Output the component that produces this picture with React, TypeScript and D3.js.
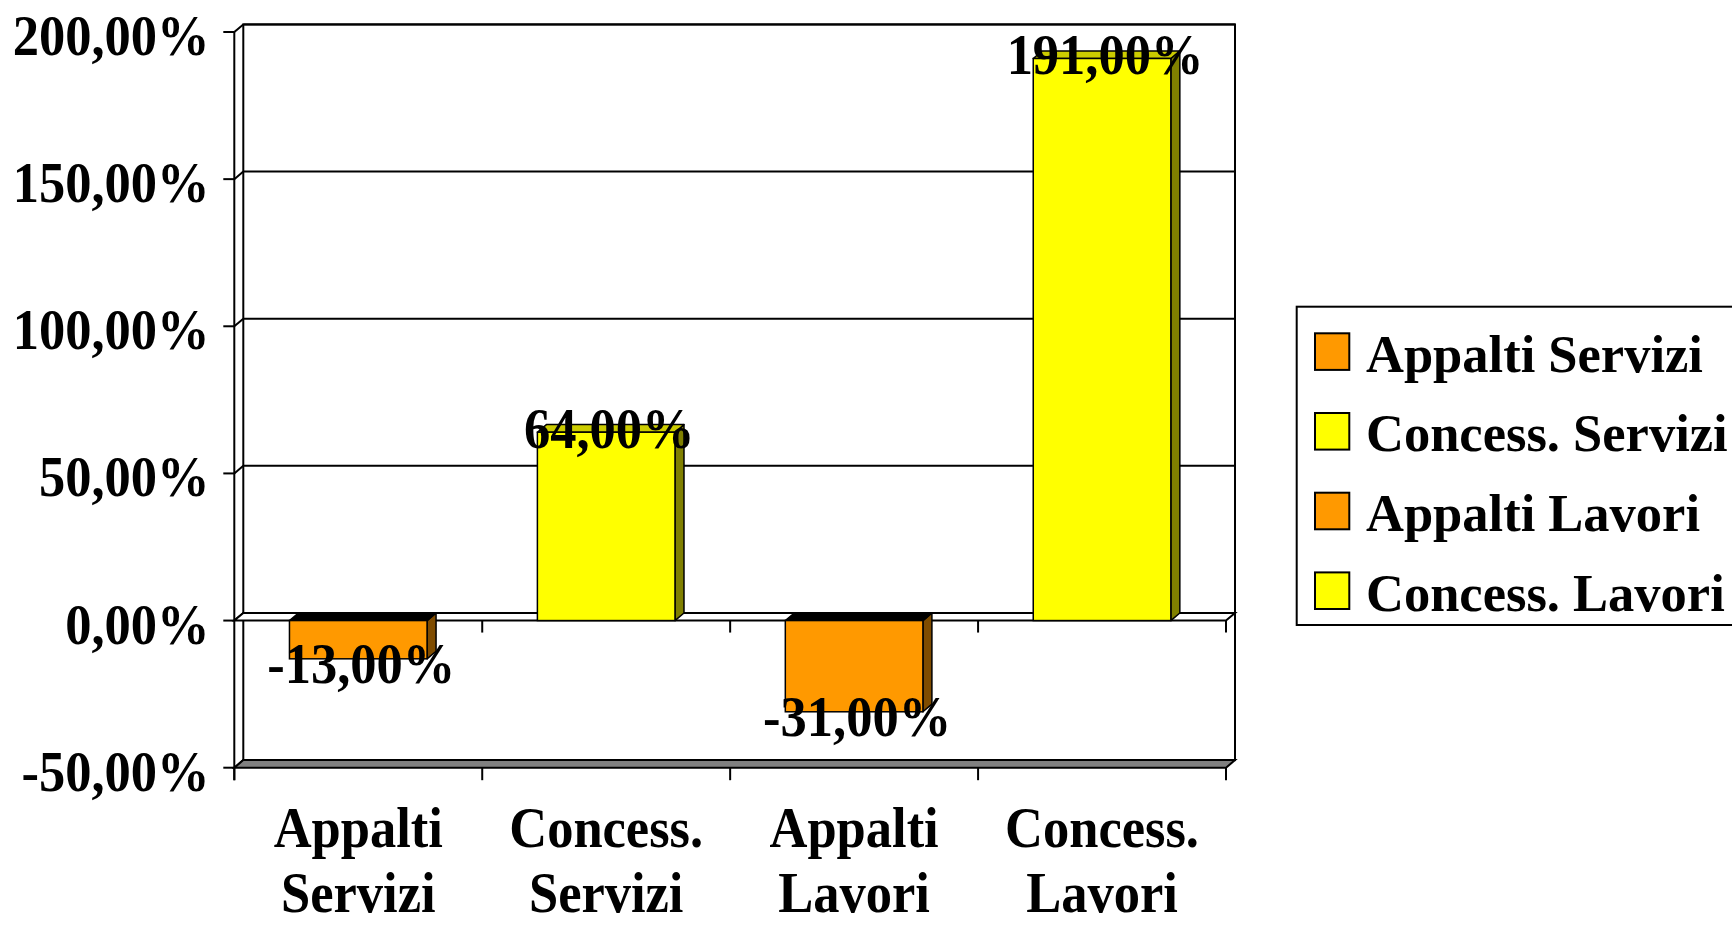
import React, { useEffect } from "react";
import * as d3 from "d3";

const categories = ["Appalti Servizi", "Concess. Servizi", "Appalti Lavori", "Concess. Lavori"];
const categoryLines = [["Appalti", "Servizi"], ["Concess.", "Servizi"], ["Appalti", "Lavori"], ["Concess.", "Lavori"]];
const values = [-13, 64, -31, 191];
const valueLabels = ["-13,00%", "64,00%", "-31,00%", "191,00%"];
const yTicks = [-50, 0, 50, 100, 150, 200];
const yTickLabels = ["-50,00%", "0,00%", "50,00%", "100,00%", "150,00%", "200,00%"];
const legendNames = ["Appalti Servizi", "Concess. Servizi", "Appalti Lavori", "Concess. Lavori"];

const W = 1732;
const H = 927;
const FONT = "'Liberation Serif', 'Times New Roman', serif";

const palette: Record<string, { front: string; top: string; side: string }> = {
  orange: { front: "#FF9900", top: "#000000", side: "#7F4C00" },
  yellow: { front: "#FFFF00", top: "#CCCC00", side: "#808000" },
};
const colorOf = (name: string) => (name.startsWith("Appalti") ? palette.orange : palette.yellow);

export default function App() {
  useEffect(() => {
    document.body.style.margin = "0";
    document.body.style.overflow = "hidden";
  }, []);

  const x0 = 234.3;
  const x1 = 1226;
  const dx = 9;
  const dy = 7.6;
  const y = d3.scaleLinear().domain([-50, 200]).range([767.7, 32]);
  const xb = d3
    .scaleBand<string>()
    .domain(categories)
    .range([x0, x1])
    .paddingInner(0.445)
    .paddingOuter(0.2225);
  const step = (x1 - x0) / categories.length;
  const bw = xb.bandwidth();
  const y0 = y(0);
  const yTop = y(200);
  const yBot = y(-50);
  const sy = 1.08;
  const fs = 52.5;

  const pts = (p: [number, number][]) => p.map((q) => q.join(",")).join(" ");

  return (
    <svg width={W} height={H} style={{ position: "absolute", left: 0, top: 0, background: "#fff" }}>
      <rect x={0} y={0} width={W} height={H} fill="#fff" />
      {/* back wall */}
      <rect x={x0 + dx} y={yTop - dy} width={x1 - x0} height={yBot - yTop} fill="#fff" stroke="#000" strokeWidth={2} />
      {/* gridlines */}
      {yTicks.map((t) => (
        <g key={"g" + t}>
          <line x1={x0 + dx} x2={x1 + dx} y1={y(t) - dy} y2={y(t) - dy} stroke="#000" strokeWidth={2} />
          <line x1={x0} x2={x0 + dx} y1={y(t)} y2={y(t) - dy} stroke="#000" strokeWidth={2} />
        </g>
      ))}
      {/* floor */}
      <polygon
        points={pts([[x0, yBot], [x1, yBot], [x1 + dx, yBot - dy], [x0 + dx, yBot - dy]])}
        fill="#808080"
        stroke="#000"
        strokeWidth={2}
      />
      {/* zero plane */}
      <polygon
        points={pts([[x0, y0], [x1, y0], [x1 + dx, y0 - dy], [x0 + dx, y0 - dy]])}
        fill="#fff"
        stroke="#000"
        strokeWidth={2}
      />
      {/* front axis */}
      <line x1={x0} x2={x0} y1={yTop} y2={yBot + 12.5} stroke="#000" strokeWidth={2} />
      {yTicks.map((t) => (
        <line key={"t" + t} x1={x0 - 11} x2={x0} y1={y(t)} y2={y(t)} stroke="#000" strokeWidth={2} />
      ))}
      {d3.range(1, categories.length + 1).map((i) => (
        <line key={"zt" + i} x1={x0 + i * step} x2={x0 + i * step} y1={y0} y2={y0 + 12} stroke="#000" strokeWidth={2} />
      ))}
      {d3.range(0, categories.length + 1).map((i) => (
        <line key={"bt" + i} x1={x0 + i * step} x2={x0 + i * step} y1={yBot} y2={yBot + 12.5} stroke="#000" strokeWidth={2} />
      ))}
      {/* bars */}
      {categories.map((c, i) => {
        const v = values[i];
        const col = colorOf(c);
        const bx = xb(c)!;
        const yv = y(v);
        const ya = Math.min(yv, y0);
        const yb = Math.max(yv, y0);
        return (
          <g key={"b" + c}>
            <polygon
              points={pts([[bx + bw, ya], [bx + bw + dx, ya - dy], [bx + bw + dx, yb - dy], [bx + bw, yb]])}
              fill={col.side}
              stroke="#000"
              strokeWidth={1.5}
              strokeLinejoin="round"
            />
            <polygon
              points={pts([[bx, ya], [bx + dx, ya - dy], [bx + bw + dx, ya - dy], [bx + bw, ya]])}
              fill={col.top}
              stroke="#000"
              strokeWidth={1.5}
              strokeLinejoin="round"
            />
            <rect x={bx} y={ya} width={bw} height={yb - ya} fill={col.front} stroke="#000" strokeWidth={1.5} />
          </g>
        );
      })}
      {/* data labels */}
      {categories.map((c, i) => {
        const v = values[i];
        const cx = xb(c)! + bw / 2 + 3;
        const by = y(v) + (v >= 0 ? 16 : 24);
        return (
          <text
            key={"l" + c}
            transform={`translate(${cx},${by}) scale(1,${sy})`}
            textAnchor="middle"
            fontFamily={FONT}
            fontWeight="bold"
            fontSize={fs}
            fill="#000"
          >
            {valueLabels[i]}
          </text>
        );
      })}
      {/* y labels */}
      {yTicks.map((t, i) => (
        <text
          key={"yl" + t}
          transform={`translate(${209.5},${y(t) + 23}) scale(1,${sy})`}
          textAnchor="end"
          fontFamily={FONT}
          fontWeight="bold"
          fontSize={fs}
          fill="#000"
        >
          {yTickLabels[i]}
        </text>
      ))}
      {/* category labels */}
      {categories.map((c, i) => {
        const cx = xb(c)! + bw / 2;
        return (
          <g key={"cl" + c}>
            {categoryLines[i].map((ln, j) => (
              <text
                key={j}
                transform={`translate(${cx},${847 + j * 65}) scale(1,${sy})`}
                textAnchor="middle"
                fontFamily={FONT}
                fontWeight="bold"
                fontSize={fs}
                fill="#000"
              >
                {ln}
              </text>
            ))}
          </g>
        );
      })}
      {/* legend */}
      <rect x={1296.7} y={306.7} width={500} height={318.3} fill="#fff" stroke="#000" strokeWidth={2} />
      {legendNames.map((n, i) => {
        const base = 371.7 + i * 79.7;
        const col = colorOf(n);
        return (
          <g key={"lg" + n}>
            <rect x={1315} y={base - 38.4} width={34.3} height={36.6} fill={col.front} stroke="#000" strokeWidth={2} />
            <text x={1366} y={base} fontFamily={FONT} fontWeight="bold" fontSize={fs} fill="#000">
              {n}
            </text>
          </g>
        );
      })}
    </svg>
  );
}
